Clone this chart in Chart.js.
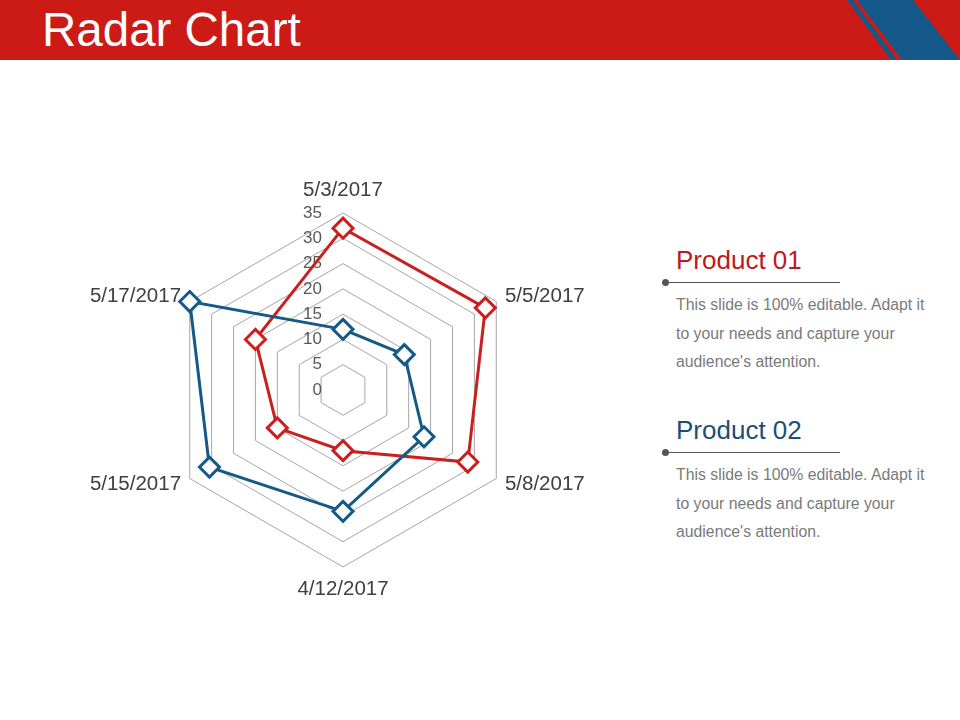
<!DOCTYPE html>
<html>
<head>
<meta charset="utf-8">
<script src="https://cdn.jsdelivr.net/npm/chart.js@4"></script>
<style>
  html, body { margin: 0; padding: 0; background: #fff; }
  body { width: 960px; height: 720px; position: relative; overflow: hidden; font-family: "Liberation Sans", Arial, sans-serif; }
  #header { position: absolute; left: 0; top: 0; }
  #title { position: absolute; left: 42px; top: 2px; color: #fff; font-size: 47.5px; line-height: 56px; }
  #chartBox { position: absolute; left: 43px; top: 150px; width: 600px; height: 480px; }
  .note { position: absolute; left: 676px; width: 270px; }
  .note h2 { margin: 0; font-weight: normal; font-size: 26px; line-height: 30px; }
  .note .rule { position: absolute; left: -10px; top: 37px; width: 174px; height: 1px; background: #555; }
  .note .dot { position: absolute; left: -14px; top: 34px; width: 7px; height: 7px; border-radius: 50%; background: #555; }
  .note p { margin: 0; position: absolute; top: 46px; left: 0; width: 280px; color: #7a7a7a; font-size: 15.8px; line-height: 28.6px; white-space: nowrap; }
</style>
</head>
<body>
<svg id="header" width="960" height="60">
  <rect x="0" y="0" width="960" height="60" fill="#cc1a17"/>
  <polygon points="847,0 853,0 897,60 891,60" fill="#14598a"/>
  <polygon points="857,0 913,0 960,60 902,60" fill="#14598a"/>
</svg>
<div id="title">Radar Chart</div>

<div id="chartBox"><canvas id="radar"></canvas></div>

<div class="note" style="top:245px">
  <h2 style="color:#c0191c">Product 01</h2>
  <div class="dot"></div><div class="rule"></div>
  <p>This slide is 100% editable. Adapt it<br>to your needs and capture your<br>audience's attention.</p>
</div>
<div class="note" style="top:415px">
  <h2 style="color:#1b4f78">Product 02</h2>
  <div class="dot"></div><div class="rule"></div>
  <p>This slide is 100% editable. Adapt it<br>to your needs and capture your<br>audience's attention.</p>
</div>

<script>
// categories, clockwise from the top
const dates = ['5/3/2017', '5/5/2017', '5/8/2017', '4/12/2017', '5/15/2017', '5/17/2017'];
const product01 = [32, 32.5, 28.5, 12, 15, 20];
const product02 = [12, 14, 18.5, 24, 30.5, 35];
const tickValues = [0, 5, 10, 15, 20, 25, 30, 35];

const red = '#c8201f';
const blue = '#155a87';

// tick numbers sit left of the vertical axis, right aligned
const tickLabels = {
    id: 'tickLabels',
    beforeDatasetsDraw(chart) {
        const r = chart.scales.r;
        const ctx = chart.ctx;
        ctx.save();
        ctx.font = '17px "Liberation Sans", Arial, sans-serif';
        ctx.fillStyle = '#595959';
        ctx.textAlign = 'right';
        ctx.textBaseline = 'middle';
        tickValues.forEach(v => {
            const d = r.getDistanceFromCenterForValue(v);
            ctx.fillText(String(v), r.xCenter - 21, r.yCenter - d);
        });
        ctx.restore();
    }
};

new Chart(document.getElementById('radar'), {
    type: 'radar',
    data: {
        labels: dates,
        datasets: [{
            label: 'Product 01',
            data: product01,
            order: 1,
            borderColor: red,
            borderWidth: 3,
            pointStyle: 'rectRot',
            pointRadius: 10,
            pointBorderWidth: 3,
            pointBorderColor: red,
            pointBackgroundColor: '#fff',
            fill: false
        }, {
            label: 'Product 02',
            data: product02,
            order: 0,
            borderColor: blue,
            borderWidth: 3,
            pointStyle: 'rectRot',
            pointRadius: 10,
            pointBorderWidth: 3,
            pointBorderColor: blue,
            pointBackgroundColor: '#fff',
            fill: false
        }]
    },
    options: {
        responsive: true,
        maintainAspectRatio: false,
        animation: false,
        layout: { padding: { top: 40, bottom: 40 } },
        elements: { line: { tension: 0 } },
        plugins: {
            legend: { display: false },
            tooltip: { enabled: false }
        },
        scales: {
            r: {
                min: 0,
                max: 35,
                ticks: { stepSize: 5, display: false },
                grid: { color: '#a6a6a6', lineWidth: 1 },
                angleLines: { display: false },
                pointLabels: {
                    color: '#404040',
                    font: { family: '"Liberation Sans", Arial, sans-serif', size: 20.5, lineHeight: 0.05 },
                    padding: ctx => (ctx.index === 0 || ctx.index === 3) ? 22 : 10
                }
            }
        }
    },
    plugins: [tickLabels]
});
</script>
</body>
</html>
